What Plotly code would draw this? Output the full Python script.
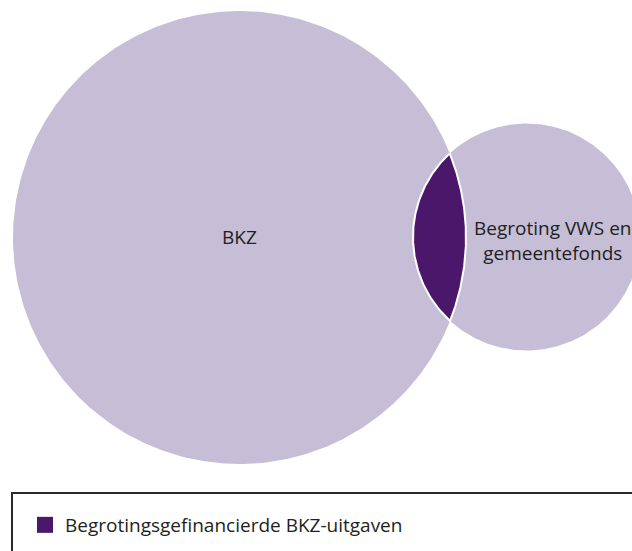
import numpy as np
import plotly.graph_objects as go

# Venn data (pixel-space geometry)
set_names = ["BKZ", "Begroting VWS en<br>gemeentefonds"]
center_x = [239.5, 526.5]
center_y = [237.5, 237.0]
radii = [226.5, 113.5]
label_x = [239.0, 552.0]
label_y = [237.0, 240.0]
overlap_name = "Begrotingsgefinancierde BKZ-uitgaven"

LIGHT = "#c6bdd7"
DARK = "#4b176b"
TEXT = "#231f20"
W, H = 632, 551

fig = go.Figure()

t = np.linspace(0, 2 * np.pi, 500)
for cx, cy, r in zip(center_x, center_y, radii):
    fig.add_trace(go.Scatter(
        x=cx + r * np.cos(t), y=cy + r * np.sin(t),
        mode="lines", fill="toself", fillcolor=LIGHT,
        line=dict(width=0, color=LIGHT), hoverinfo="skip", showlegend=False))

# Lens (intersection)
x1, y1, r1 = center_x[0], center_y[0], radii[0]
x2, y2, r2 = center_x[1], center_y[1], radii[1]
d = np.hypot(x2 - x1, y2 - y1)
base = np.arctan2(y2 - y1, x2 - x1)
a1 = np.arccos((d**2 + r1**2 - r2**2) / (2 * d * r1))
a2 = np.arccos((d**2 + r2**2 - r1**2) / (2 * d * r2))
th1 = np.linspace(base - a1, base + a1, 150)
th2 = np.linspace(base + np.pi - a2, base + np.pi + a2, 150)
lx = np.concatenate([x1 + r1 * np.cos(th1), x2 + r2 * np.cos(th2)])
ly = np.concatenate([y1 + r1 * np.sin(th1), y2 + r2 * np.sin(th2)])
lx = np.append(lx, lx[0]); ly = np.append(ly, ly[0])
fig.add_trace(go.Scatter(x=lx, y=ly, mode="lines", fill="toself", fillcolor=DARK,
                         line=dict(width=2, color="white"), hoverinfo="skip",
                         showlegend=False))

# legend entry
fig.add_trace(go.Scatter(x=[None], y=[None], mode="markers", name=overlap_name,
                         marker=dict(symbol="square", size=16, color=DARK)))

font = "Open Sans, Noto Sans, sans-serif"
for name, lxp, lyp in zip(set_names, label_x, label_y):
    fig.add_annotation(x=lxp, y=lyp, text=name, showarrow=False,
                       font=dict(family=font, size=19, color=TEXT),
                       xanchor="center", yanchor="middle")

fig.add_shape(type="rect", xref="x", yref="y", x0=12, x1=W + 20, y0=493, y1=H + 20,
              line=dict(color="#2a2a2a", width=2), fillcolor="rgba(0,0,0,0)")

legend_left, legend_top = 25, 506
fig.update_layout(
    width=W, height=H, margin=dict(l=0, r=0, t=0, b=0),
    paper_bgcolor="white", plot_bgcolor="white",
    xaxis=dict(range=[0, W], visible=False, fixedrange=True),
    yaxis=dict(range=[H, 0], visible=False, fixedrange=True),
    legend=dict(x=legend_left / W, y=1 - legend_top / H,
                xanchor="left", yanchor="top",
                font=dict(family=font, size=19, color=TEXT),
                bgcolor="rgba(0,0,0,0)", borderwidth=0),
    showlegend=True,
)

fig.write_html(
    "out.html",
    config={"displayModeBar": False},
    post_script="document.body.style.margin='0';document.body.style.overflow='hidden';",
)
